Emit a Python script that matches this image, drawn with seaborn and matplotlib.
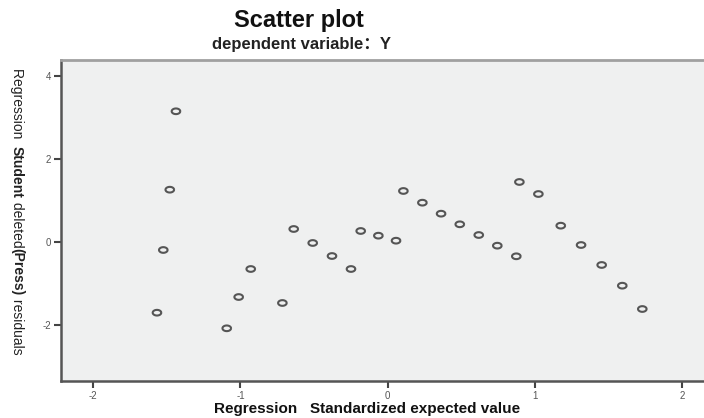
import matplotlib
matplotlib.use("Agg")
import matplotlib.pyplot as plt
import seaborn as sns
import numpy as np
import pandas as pd
from matplotlib.path import Path

# ---- data ----
pred = [-1.438, -1.480, -1.524, -1.567, -1.093, -1.012, -0.930, -0.715, -0.638,
        -0.509, -0.378, -0.249, -0.183, -0.063, 0.057, 0.107, 0.236, 0.363,
        0.490, 0.619, 0.745, 0.874, 0.895, 1.024, 1.176, 1.314, 1.454, 1.594, 1.730]
resid = [3.142, 1.253, -0.200, -1.711, -2.087, -1.333, -0.658, -1.477, 0.306,
         -0.031, -0.345, -0.658, 0.258, 0.145, 0.024, 1.222, 0.940, 0.675,
         0.419, 0.161, -0.096, -0.352, 1.439, 1.149, 0.386, -0.080, -0.561, -1.060, -1.622]
xticks = [-2, -1, 0, 1, 2]
yticks = [-2, 0, 2, 4]
title = "Scatter plot"
subtitle = "dependent variable：Y"
xlabel = "Regression   Standardized expected value"
ylabel_parts = [("Regression  ", "normal"), ("Student", "bold"), (" deleted", "normal"),
                ("(Press)", "bold"), (" residuals", "normal")]

df = pd.DataFrame({"pred": pred, "resid": resid})

sns.set_theme(style="white")
plt.rcParams['font.family'] = ['Liberation Sans', 'Noto Sans CJK SC', 'DejaVu Sans']

W, H = 704, 418
fig = plt.figure(figsize=(W / 100, H / 100), dpi=100)
left, right, top, bottom = 60.7, 704, 60, 381.3
ax = fig.add_axes([left / W, (H - bottom) / H, (right - left) / W, (bottom - top) / H])
ax.set_facecolor("#eff0f0")

# ellipse-shaped open marker (the original is slightly stretched horizontally)
theta = np.linspace(0, 2 * np.pi, 60)
ell = Path(np.column_stack([np.cos(theta), 0.66 * np.sin(theta)]))

sns.scatterplot(data=df, x="pred", y="resid", ax=ax, marker=ell, s=38,
                facecolors="none", edgecolor="#555555", linewidth=1.5, legend=False)

ax.set_xlim(-2.221, 2.149)
ax.set_ylim(-3.364, 4.378)
ax.set_xticks(xticks)
ax.set_yticks(yticks)
ax.set_xticklabels([str(t) for t in xticks])
ax.set_yticklabels([str(t) for t in yticks])
ax.tick_params(axis="both", direction="out", length=5, width=1.5, color="#444444",
               labelsize=7, labelcolor="#555555", pad=2)
ax.tick_params(axis="x", bottom=True)
ax.tick_params(axis="y", left=True)
ax.set_xlabel("")
ax.set_ylabel("")

for side in ["left", "bottom"]:
    ax.spines[side].set_color("#555555")
    ax.spines[side].set_linewidth(1.8)
ax.spines["top"].set_color("#a0a0a0")
ax.spines["top"].set_linewidth(2.0)
ax.spines["right"].set_visible(False)

fig.text(299 / W, 1 - 20 / H, title, ha="center", va="center", fontsize=17,
         fontweight="bold", color="#111111")
fig.text(301 / W, 1 - 45 / H, subtitle, ha="center", va="center", fontsize=12,
         fontweight="bold", color="#222222")
fig.text(367 / W, 1 - 409 / H, xlabel, ha="center", va="center", fontsize=11,
         fontweight="bold", color="#111111")

# y label composed from pieces with mixed weight, reading top to bottom
fig.canvas.draw()
renderer = fig.canvas.get_renderer()
ycur = 1 - 68 / H
for txt, wt in ylabel_parts:
    t = fig.text(17 / W, ycur, txt, rotation=-90, ha="center", va="top",
                 fontsize=10, fontweight=wt, color="#222222",
                 family=['Liberation Sans Narrow', 'Liberation Sans', 'DejaVu Sans'])
    bb = t.get_window_extent(renderer=renderer)
    ycur -= bb.height / H

fig.savefig("out.png", dpi=100)
